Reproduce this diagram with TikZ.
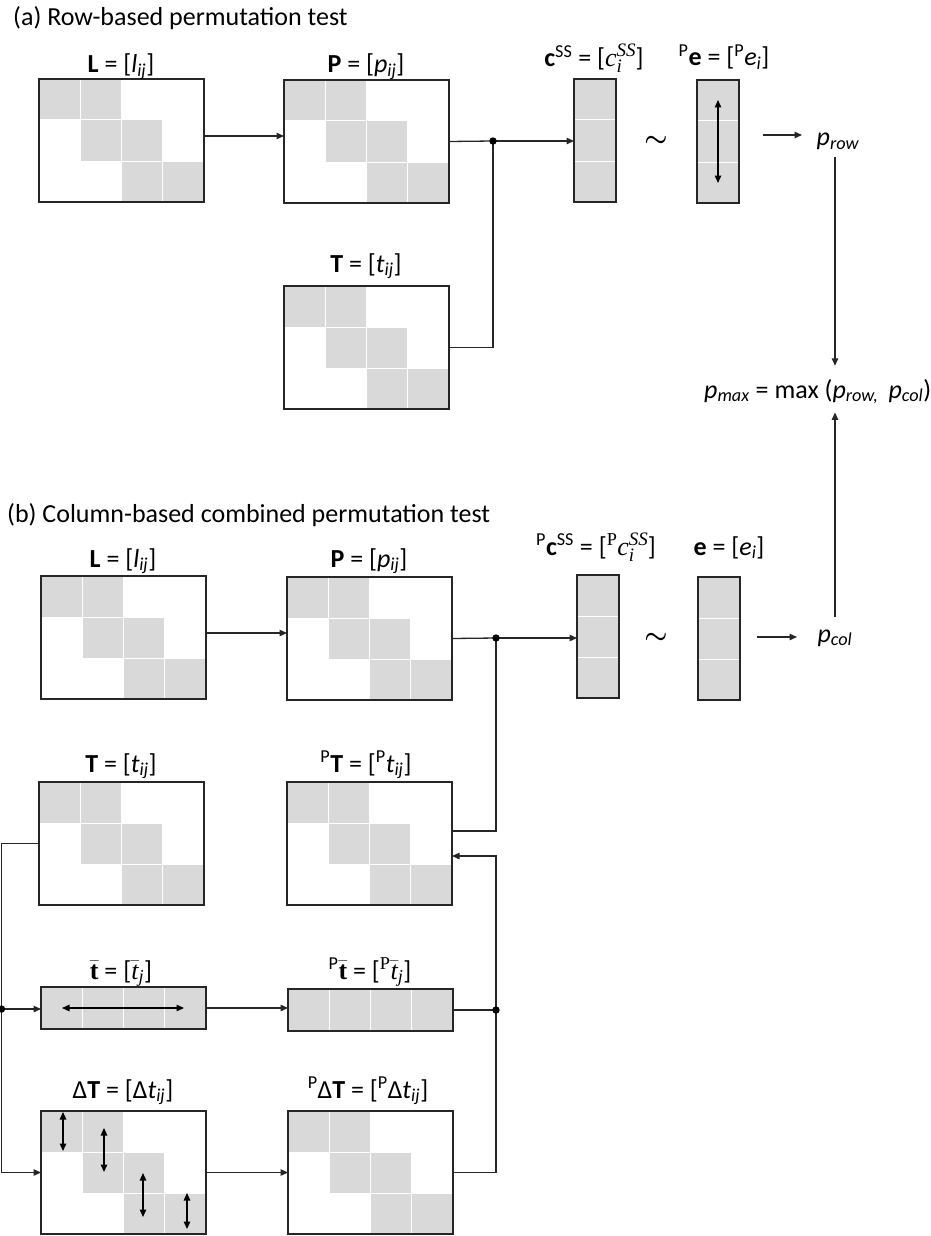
\RequirePackage{fix-cm}
\documentclass[tikz,border=0pt]{standalone}
\usepackage{fontspec}
\setmainfont{Carlito}
\newfontfamily\cmb{Liberation Serif}
\usetikzlibrary{arrows.meta,calc}
\definecolor{cellgray}{HTML}{D9D9D9}
\definecolor{linecol}{HTML}{262626}
\tikzset{
  conn/.style={draw=linecol, line width=1.3pt},
  arr/.style={conn, -{Triangle[length=7.5pt,width=6.5pt]}},
  darr/.style={draw=black, line width=1.3pt, {Triangle[length=7.5pt,width=6.5pt]}-{Triangle[length=7.5pt,width=6.5pt]}},
  matbox/.style={draw=none, minimum width=165pt, minimum height=123pt, inner sep=0pt, outer sep=0pt},
  colbox/.style={draw=none, minimum width=42pt, minimum height=123pt, inner sep=0pt, outer sep=0pt},
  rowbox/.style={draw=none, minimum width=165pt, minimum height=42pt, inner sep=0pt, outer sep=0pt},
  lbl/.style={anchor=base, inner sep=0pt, font=\fontsize{26}{30}\selectfont},
  ttl/.style={anchor=base west, inner sep=0pt, font=\fontsize{26}{30}\selectfont},
  cell/.style={fill=cellgray, draw=white, line width=1pt},
  frame/.style={draw=linecol, line width=1.3pt},
}
\newcommand\mkmat[3]{%
  \node[matbox] (#1) at ({#2+82.5},{#3+61.5}) {};
  \foreach \ri/\ci in {0/0,0/1,1/1,1/2,2/2,2/3}
    \path[cell] ($(#1.north west)+({\ci*41.25},{\ri*41})$) rectangle ++(41.25,41);
  \path[frame] (#1.north west) rectangle (#1.south east);
}
\newcommand\mkcol[3]{%
  \node[colbox] (#1) at ({#2+21},{#3+61.5}) {};
  \foreach \ri in {0,1,2}
    \path[cell] ($(#1.north west)+(0,{\ri*41})$) rectangle ++(42,41);
  \path[frame] (#1.north west) rectangle (#1.south east);
}
\newcommand\mkrow[3]{%
  \node[rowbox] (#1) at ({#2+82.5},{#3+21}) {};
  \foreach \ci in {0,1,2,3}
    \path[cell] ($(#1.north west)+({\ci*41.25},0)$) rectangle ++(41.25,42);
  \path[frame] (#1.north west) rectangle (#1.south east);
}
\newcommand\mysub[1]{\textsubscript{\textit{#1}}}
\newcommand\mysup[1]{\textsuperscript{#1}}
% serif (math-like) pieces
\newcommand\cSS{{\cmb\itshape c}\rlap{\raisebox{-6pt}{\fontsize{19}{20}\selectfont\cmb\itshape i}}\raisebox{10pt}{\fontsize{19}{20}\selectfont\cmb\itshape SS}}
\newcommand\tbarj{$\bar{\hbox{\cmb\itshape t}}$\textsubscript{\cmb\itshape j}}
\newcommand\tbarbf{$\bar{\hbox{\cmb\bfseries t}}$}
\newcommand\serP{\textsuperscript{\cmb P}}
\newcommand\tilda{{\boldmath$\sim$}}
\begin{document}
\begin{tikzpicture}[x=1pt,y=-1pt]
\useasboundingbox (0,0) rectangle (931,1236);

% ---------- (a) ----------
\node[ttl] (ta) at (13,26) {(a) Row-based permutation test};
\mkmat{La}{39}{79}
\mkmat{Pa}{284}{80}
\mkmat{Ta}{284}{286}
\mkcol{ca}{574}{79}
\mkcol{ea}{697}{80}

\node[lbl] (lLa) at (121,72.5) {\textbf{L} = [\textit{l}\mysub{ij}]};
\node[lbl] (lPa) at (366,73) {\textbf{P} = [\textit{p}\mysub{ij}]};
\node[lbl] (lTa) at (366,272) {\textbf{T} = [\textit{t}\mysub{ij}]};
\node[lbl] (lca) at (594,67) {\textbf{c}\mysup{SS} = [\cSS]};
\node[lbl] (lea) at (724,66) {\mysup{P}\textbf{e} = [\mysup{P}\textit{e}\mysub{i}]};
\node[lbl, anchor=center] (sima) at (656,141) {\tilda};
\node[lbl] (prow) at (838,146) {\textit{p}\mysub{row}};

\coordinate (ja) at (493,141);
\draw[arr] ([yshift=4.5pt]La.east) -- ([yshift=4.5pt]La.east -| Pa.west);
\draw[conn] (Pa.east) -- (ja);
\draw[arr] (ja) -- (ja -| ca.west);
\draw[conn] (Ta.east) -| (ja);
\fill (ja) circle (3.7pt);
\draw[darr] ([yshift=41.5pt]ea.center) -- ([yshift=-41.5pt]ea.center);
\draw[arr, shorten <=24pt] ([yshift=6.5pt]ea.east) -- ++(63,0);

% ---------- p max ----------
\node[lbl, anchor=base west] (pmax) at (704,398) {\textit{p}\mysub{max} = max (\textit{p}\mysub{row,}\, \textit{p}\mysub{col})};

% ---------- (b) ----------
\node[ttl] (tb) at (7,522) {(b) Column-based combined permutation test};
\mkmat{Lb}{41}{576}
\mkmat{Pb}{287}{577}
\mkcol{cb}{577}{575}
\mkcol{eb}{698}{577}
\mkmat{Tb}{39}{782}
\mkmat{PTb}{287}{782}
\mkrow{tbar}{41}{987}
\mkrow{Ptbar}{288}{989}
\mkmat{dT}{41}{1111}
\mkmat{PdT}{288}{1111}

\node[lbl] (lLb) at (123,567) {\textbf{L} = [\textit{l}\mysub{ij}]};
\node[lbl] (lPb) at (369,567) {\textbf{P} = [\textit{p}\mysub{ij}]};
\node[lbl] (lcb) at (596,555) {\mysup{P}\textbf{c}\mysup{SS} = [\serP\cSS]};
\node[lbl] (leb) at (729,555) {\textbf{e} = [\textit{e}\mysub{i}]};
\node[lbl] (lTb) at (121,772) {\textbf{T} = [\textit{t}\mysub{ij}]};
\node[lbl] (lPTb) at (366,772) {\mysup{P}\textbf{T} = [\mysup{P}\textit{t}\mysub{ij}]};
\node[lbl] (ltbar) at (121,979) {\tbarbf\ = [\tbarj]};
\node[lbl] (lPtbar) at (370,979) {\mysup{P}\tbarbf\ = [\serP\tbarj]};
\node[lbl] (ldT) at (123,1098) {Δ\textbf{T} = [Δ\textit{t}\mysub{ij}]};
\node[lbl] (lPdT) at (368,1098) {\mysup{P}Δ\textbf{T} = [\mysup{P}Δ\textit{t}\mysub{ij}]};
\node[lbl, anchor=center] (simb) at (656,638) {\tilda};
\node[lbl] (pcol) at (835,642) {\textit{p}\mysub{col}};

\coordinate (jb) at (496,638);
\coordinate (jl) at (1.5,1009);
\coordinate (jr) at (496,1010);

\draw[arr] ([yshift=4.5pt]Lb.east) -- ([yshift=4.5pt]Lb.east -| Pb.west);
\draw[conn] (Pb.east) -- (jb);
\draw[arr] (jb) -- (jb -| cb.west);
\draw[conn] ([yshift=12.5pt]PTb.east) -| (jb);
\draw[arr, shorten <=17pt] ([yshift=1.5pt]eb.east) -- ++(57,0);

\draw[arr] (Tb.west) -| (jl) |- (dT.west);
\draw[arr] (jl) -- (jl -| tbar.west);
\draw[arr] (tbar.east) -- (tbar.east -| Ptbar.west);
\draw[conn] (Ptbar.east) -- (jr);
\draw[arr] (dT.east) -- (dT.east -| PdT.west);
\draw[arr] (PdT.east) -| (jr) |- ([yshift=-12.5pt]PTb.east);
\fill (jb) circle (3.7pt);
\fill (jl) circle (3.7pt);
\fill (jr) circle (3.7pt);

\draw[darr] ([xshift=-61.5pt]tbar.center) -- ([xshift=60.5pt]tbar.center);
\draw[darr] ($(dT.north west)+(22,1)$) -- ++(0,39);
\draw[darr] ($(dT.north west)+(63,17)$) -- ++(0,44);
\draw[darr] ($(dT.north west)+(102,62)$) -- ++(0,44);
\draw[darr] ($(dT.north west)+(146,82)$) -- ++(0,36);

% p connections
\draw[arr, shorten <=7pt, shorten >=13pt] (prow.south -| pcol.north) -- (pcol.north |- pmax.north);
\draw[arr, shorten <=12pt, shorten >=8pt] (pcol.north) -- (pcol.north |- pmax.south);
\end{tikzpicture}
\end{document}
